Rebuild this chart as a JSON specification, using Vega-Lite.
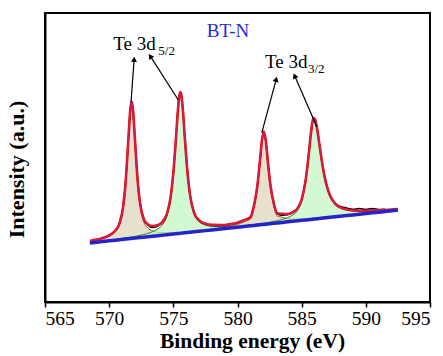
{
"$schema": "https://vega.github.io/schema/vega-lite/v6.json",
"width": 385, "height": 289,
"autosize": {"type": "none"},
"padding": {"left": 45, "top": 13, "right": 13, "bottom": 54},
"background": "white",
"config": {"view": {"stroke": "black", "strokeWidth": 2}, "font": "Liberation Serif"},
"datasets": {
"spec": [
{"x":568.5,"b":20.45,"e":21.14,"p1":20.94},
{"x":569,"b":20.69,"e":21.59,"p1":21.37},
{"x":569.5,"b":20.92,"e":22.17,"r":22.17,"p1":21.92},
{"x":570,"b":21.16,"e":23.09,"r":23.09,"p1":22.78,"p2":21.41},
{"x":570.5,"b":21.40,"e":24.81,"r":24.81,"p1":24.45,"p2":21.70},
{"x":570.8,"b":21.54,"e":27.14,"r":27.14,"p1":26.74,"p2":21.88},
{"x":571.1,"b":21.68,"e":33.36,"r":33.36,"p1":32.91,"p2":22.07},
{"x":571.3,"b":21.77,"e":42.52,"r":42.52,"p1":42.03,"p2":22.20},
{"x":571.5,"b":21.87,"e":56.60,"r":56.60,"p1":56.06,"p2":22.34},
{"x":571.65,"b":21.94,"e":66.70,"r":66.70,"p1":66.12,"p2":22.45},
{"x":571.75,"b":21.99,"e":69.29,"r":69.29,"p1":68.69,"p2":22.52},
{"x":571.85,"b":22.03,"e":66.84,"r":66.84,"p1":66.21,"p2":22.59},
{"x":572.0,"b":22.10,"e":56.97,"r":56.97,"p1":56.29,"p2":22.71},
{"x":572.2,"b":22.20,"e":43.21,"r":43.21,"p1":42.46,"p2":22.88},
{"x":572.4,"b":22.29,"e":34.37,"r":34.37,"p1":33.52,"p2":23.06},
{"x":572.7,"b":22.43,"e":28.65,"r":28.65,"p1":27.63,"p2":23.36},
{"x":573.0,"b":22.58,"e":26.88,"r":26.68,"p1":25.63,"p2":23.74},
{"x":573.4,"b":22.77,"e":26.28,"r":25.78,"p1":24.58,"p2":24.38},
{"x":573.8,"b":22.95,"e":26.62,"r":26.32,"p1":24.15,"p2":25.32},
{"x":574.2,"b":23.14,"e":27.96,"r":27.96,"p1":23.99,"p2":27.00},
{"x":574.5,"b":23.29,"e":30.46,"r":30.46,"p1":23.97,"p2":29.67},
{"x":574.8,"b":23.43,"e":36.62,"r":36.62,"p1":23.98,"p2":35.95},
{"x":575.0,"b":23.52,"e":44.64,"r":44.64,"p1":24.01,"p2":44.02},
{"x":575.2,"b":23.62,"e":56.34,"r":56.34,"p1":24.05,"p2":55.78},
{"x":575.35,"b":23.69,"e":65.98,"r":65.98,"p1":24.09,"p2":65.44},
{"x":575.45,"b":23.74,"e":70.82,"r":71.12,"p1":24.12,"p2":70.30},
{"x":575.55,"b":23.78,"e":72.69,"r":72.69,"p1":24.14,"p2":72.18},
{"x":575.65,"b":23.83,"e":70.89,"r":70.89,"p1":24.17,"p2":70.39},
{"x":575.75,"b":23.88,"e":66.11,"r":66.11,"p1":24.20,"p2":65.63},
{"x":575.9,"b":23.95,"e":56.58,"r":56.58,"p1":24.25,"p2":56.11},
{"x":576.1,"b":24.04,"e":44.98,"r":44.98,"p1":24.31,"p2":44.54},
{"x":576.3,"b":24.14,"e":37.09,"r":37.09,"p1":24.39,"p2":36.66},
{"x":576.6,"b":24.28,"e":31.09,"r":31.09,"p1":24.50,"p2":30.66},
{"x":577.0,"b":24.47,"e":28.27,"r":28.27,"p1":24.66,"p2":27.84},
{"x":577.5,"b":24.70,"e":27.09,"r":26.89,"p2":26.64,"p3":24.90},
{"x":578.0,"b":24.94,"e":26.67,"r":26.47,"p2":26.19,"p3":25.19},
{"x":578.7,"b":25.27,"e":26.63,"r":26.43,"p2":26.04,"p3":25.63},
{"x":579.4,"b":25.60,"e":26.93,"r":26.73,"p2":26.12,"p3":26.17},
{"x":580.0,"b":25.88,"e":27.46,"r":27.46,"p2":26.27,"p3":26.81},
{"x":580.5,"b":26.12,"e":28.31,"r":28.31,"p2":26.44,"p3":27.70,"p4":26.34},
{"x":581.0,"b":26.36,"e":29.31,"r":29.31,"p3":28.73,"p4":26.62},
{"x":581.3,"b":26.50,"e":33.69,"r":33.69,"p3":33.10,"p4":26.80},
{"x":581.55,"b":26.62,"e":40.31,"r":40.31,"p3":39.70,"p4":26.95},
{"x":581.75,"b":26.71,"e":48.91,"r":48.91,"p3":48.28,"p4":27.08},
{"x":581.9,"b":26.78,"e":55.75,"r":55.75,"p3":55.12,"p4":27.17},
{"x":582.05,"b":26.85,"e":59.00,"r":59.00,"p3":58.35,"p4":27.27},
{"x":582.2,"b":26.92,"e":55.95,"r":55.95,"p3":55.26,"p4":27.38},
{"x":582.35,"b":27.00,"e":49.29,"r":49.29,"p3":48.57,"p4":27.50},
{"x":582.55,"b":27.09,"e":40.93,"r":40.93,"p3":40.17,"p4":27.64},
{"x":582.8,"b":27.21,"e":34.65,"r":34.65,"p3":33.81,"p4":27.85},
{"x":583.1,"b":27.35,"e":30.68,"r":30.48,"p3":29.72,"p4":28.13},
{"x":583.5,"b":27.54,"e":30.53,"r":30.03,"p3":29.33,"p4":28.58},
{"x":583.9,"b":27.73,"e":30.47,"r":30.17,"p3":28.86,"p4":29.19},
{"x":584.3,"b":27.92,"e":31.04,"r":31.04,"p3":28.70,"p4":30.12},
{"x":584.7,"b":28.10,"e":32.55,"r":32.55,"p3":28.67,"p4":31.86},
{"x":585.0,"b":28.25,"e":35.44,"r":35.44,"p3":28.71,"p4":34.86},
{"x":585.3,"b":28.39,"e":41.85,"r":41.85,"p3":28.77,"p4":41.36},
{"x":585.5,"b":28.48,"e":48.96,"r":48.96,"p3":28.82,"p4":48.51},
{"x":585.7,"b":28.58,"e":57.51,"r":57.51,"p3":28.88,"p4":57.10},
{"x":585.85,"b":28.65,"e":62.51,"r":62.51,"p3":28.93,"p4":62.12},
{"x":585.95,"b":28.70,"e":63.66,"r":63.66,"p3":28.96,"p4":63.30},
{"x":586.05,"b":28.74,"e":63.04,"r":63.04,"p3":28.99,"p4":62.69},
{"x":586.2,"b":28.81,"e":60.01,"r":60.01,"p3":29.04,"p4":59.69},
{"x":586.4,"b":28.91,"e":53.99,"r":53.99,"p3":29.12,"p4":53.69},
{"x":586.65,"b":29.03,"e":46.61,"r":46.61,"p3":29.22,"p4":46.33},
{"x":586.9,"b":29.15,"e":41.08,"r":41.08,"p3":29.32,"p4":40.82},
{"x":587.2,"b":29.29,"e":36.90,"r":36.90,"p3":29.44,"p4":36.66},
{"x":587.6,"b":29.48,"e":34.06,"r":34.06,"p3":29.61,"p4":33.85},
{"x":588.0,"b":29.66,"e":32.76,"r":33.06,"p3":29.77,"p4":32.57},
{"x":588.5,"b":29.90,"e":32.02,"r":32.52,"p4":31.84},
{"x":589.0,"b":30.14,"e":31.68,"r":32.08,"p4":31.53},
{"x":589.5,"b":30.37,"e":31.54,"r":32.34,"p4":31.41},
{"x":590.0,"b":30.61,"e":31.53,"r":32.03,"p4":31.41},
{"x":590.5,"b":30.85,"e":31.61,"r":32.31,"p4":31.49},
{"x":591.0,"b":31.08,"e":31.70,"r":32.00,"p4":31.60},
{"x":591.5,"b":31.32,"e":31.85,"r":32.05,"p4":31.75},
{"x":592.0,"b":31.55,"e":32.01,"p4":31.92},
{"x":592.5,"b":31.79,"e":32.19,"p4":32.10}
],
"arrows": [
{"id":"a1","x":571.70,"y":68.9,"x2":571.94,"y2":83.7},
{"id":"a2","x":575.39,"y":69.9,"x2":573.24,"y2":84.8},
{"id":"a3","x":581.89,"y":58.5,"x2":583.0,"y2":76.8},
{"id":"a4","x":586.17,"y":60.7,"x2":584.48,"y2":78.0}
],
"labels": [
{"role":"main","x":570.32,"y":87.2,"text":"Te 3d"},
{"role":"sub","x":573.83,"y":85.6,"text":"5/2"},
{"role":"main","x":582.14,"y":80.9,"text":"Te 3d"},
{"role":"sub","x":585.49,"y":79.4,"text":"3/2"},
{"role":"name","x":579.26,"y":91.7,"text":"BT-N"}
]
},
"layer": [
{"data":{"name":"spec"},"transform":[{"filter":"isValid(datum.p1)"}],
 "mark":{"type":"area","color":"#dbd4b8","interpolate":"monotone","line":{"color":"#7a6a22","strokeWidth":1}},
 "encoding":{
  "x":{"field":"x","type":"quantitative","scale":{"domain":[565,595],"nice":false,"zero":false},
   "axis":{"values":[565,567.5,570,572.5,575,577.5,580,582.5,585,587.5,590,592.5,595],"format":"d",
    "labelExpr":"datum.value % 5 === 0 ? datum.label : ''",
    "tickSize":{"condition":{"test":"datum.value % 5 === 0","value":5},"value":3},
    "tickWidth":1.5,"tickColor":"black","domainColor":"black","domainWidth":2,
    "labelFontSize":19.5,"labelColor":"black","labelPadding":2,"labelFont":"Liberation Serif",
    "title":"Binding energy (eV)","titleFontSize":21.5,"titleFontWeight":"bold","titleColor":"black","titleFont":"Liberation Serif","titlePadding":3,"titleX":207,"grid":false}},
  "y":{"field":"p1","type":"quantitative","scale":{"domain":[0,100],"nice":false,"zero":false},
   "axis":{"title":"Intensity (a.u.)","ticks":false,"labels":false,"grid":false,"domainColor":"black","domainWidth":2,
    "titleFontSize":22,"titleFontWeight":"bold","titleColor":"black","titleFont":"Liberation Serif","titlePadding":17,"titleY":156}},
  "y2":{"field":"b"}}},
{"data":{"name":"spec"},"transform":[{"filter":"isValid(datum.p2)"}],
 "mark":{"type":"area","color":"#c0f6c0","interpolate":"monotone","line":{"color":"#2f7a2f","strokeWidth":1}},
 "encoding":{"x":{"field":"x","type":"quantitative","scale":{"domain":[565,595]}},
  "y":{"field":"p2","type":"quantitative","scale":{"domain":[0,100]}},"y2":{"field":"b"}}},
{"data":{"name":"spec"},"transform":[{"filter":"isValid(datum.p3)"}],
 "mark":{"type":"area","color":"#dbd4b8","interpolate":"monotone","line":{"color":"#7a6a22","strokeWidth":1}},
 "encoding":{"x":{"field":"x","type":"quantitative","scale":{"domain":[565,595]}},
  "y":{"field":"p3","type":"quantitative","scale":{"domain":[0,100]}},"y2":{"field":"b"}}},
{"data":{"name":"spec"},"transform":[{"filter":"isValid(datum.p4)"}],
 "mark":{"type":"area","color":"#c0f6c0","interpolate":"monotone","line":{"color":"#2f7a2f","strokeWidth":1}},
 "encoding":{"x":{"field":"x","type":"quantitative","scale":{"domain":[565,595]}},
  "y":{"field":"p4","type":"quantitative","scale":{"domain":[0,100]}},"y2":{"field":"b"}}},
{"data":{"name":"spec"},"transform":[{"filter":"isValid(datum.r)"}],
 "mark":{"type":"line","color":"black","strokeWidth":1.6,"interpolate":"monotone"},
 "encoding":{"x":{"field":"x","type":"quantitative","scale":{"domain":[565,595]}},
  "y":{"field":"r","type":"quantitative","scale":{"domain":[0,100]}}}},
{"data":{"name":"spec"},
 "mark":{"type":"line","color":"#e0101c","strokeWidth":2.6,"interpolate":"monotone"},
 "encoding":{"x":{"field":"x","type":"quantitative","scale":{"domain":[565,595]}},
  "y":{"field":"e","type":"quantitative","scale":{"domain":[0,100]}}}},
{"data":{"name":"spec"},
 "mark":{"type":"line","color":"#c0309a","strokeWidth":1,"opacity":0.55,"interpolate":"monotone"},
 "encoding":{"x":{"field":"x","type":"quantitative","scale":{"domain":[565,595]}},
  "y":{"field":"e","type":"quantitative","scale":{"domain":[0,100]}}}},
{"data":{"name":"spec"},
 "mark":{"type":"line","color":"#2424c8","strokeWidth":3.5},
 "encoding":{"x":{"field":"x","type":"quantitative","scale":{"domain":[565,595]}},
  "y":{"field":"b","type":"quantitative","scale":{"domain":[0,100]}}}},
{"data":{"name":"arrows"},
 "mark":{"type":"rule","color":"black","strokeWidth":1.2},
 "encoding":{"x":{"field":"x","type":"quantitative","scale":{"domain":[565,595]}},
  "y":{"field":"y","type":"quantitative","scale":{"domain":[0,100]}},
  "x2":{"field":"x2"},"y2":{"field":"y2"}}},
{"data":{"name":"arrows"},"transform":[{"filter":"datum.id === 'a1'"}],
 "mark":{"type":"point","shape":"triangle","filled":true,"color":"black","size":36,"angle":4,"opacity":1},
 "encoding":{"x":{"field":"x2","type":"quantitative","scale":{"domain":[565,595]}},
  "y":{"field":"y2","type":"quantitative","scale":{"domain":[0,100]}}}},
{"data":{"name":"arrows"},"transform":[{"filter":"datum.id === 'a2'"}],
 "mark":{"type":"point","shape":"triangle","filled":true,"color":"black","size":36,"angle":327,"opacity":1},
 "encoding":{"x":{"field":"x2","type":"quantitative","scale":{"domain":[565,595]}},
  "y":{"field":"y2","type":"quantitative","scale":{"domain":[0,100]}}}},
{"data":{"name":"arrows"},"transform":[{"filter":"datum.id === 'a3'"}],
 "mark":{"type":"point","shape":"triangle","filled":true,"color":"black","size":36,"angle":15,"opacity":1},
 "encoding":{"x":{"field":"x2","type":"quantitative","scale":{"domain":[565,595]}},
  "y":{"field":"y2","type":"quantitative","scale":{"domain":[0,100]}}}},
{"data":{"name":"arrows"},"transform":[{"filter":"datum.id === 'a4'"}],
 "mark":{"type":"point","shape":"triangle","filled":true,"color":"black","size":36,"angle":336,"opacity":1},
 "encoding":{"x":{"field":"x2","type":"quantitative","scale":{"domain":[565,595]}},
  "y":{"field":"y2","type":"quantitative","scale":{"domain":[0,100]}}}},
{"data":{"name":"labels"},"transform":[{"filter":"datum.role === 'main'"}],
 "mark":{"type":"text","align":"left","baseline":"alphabetic","fontSize":19,"font":"Liberation Serif","color":"black"},
 "encoding":{"x":{"field":"x","type":"quantitative","scale":{"domain":[565,595]}},
  "y":{"field":"y","type":"quantitative","scale":{"domain":[0,100]}},"text":{"field":"text"}}},
{"data":{"name":"labels"},"transform":[{"filter":"datum.role === 'sub'"}],
 "mark":{"type":"text","align":"left","baseline":"alphabetic","fontSize":13,"font":"Liberation Serif","color":"black"},
 "encoding":{"x":{"field":"x","type":"quantitative","scale":{"domain":[565,595]}},
  "y":{"field":"y","type":"quantitative","scale":{"domain":[0,100]}},"text":{"field":"text"}}},
{"data":{"name":"labels"},"transform":[{"filter":"datum.role === 'name'"}],
 "mark":{"type":"text","align":"center","baseline":"alphabetic","fontSize":19,"font":"Liberation Serif","color":"#2b2bd0"},
 "encoding":{"x":{"field":"x","type":"quantitative","scale":{"domain":[565,595]}},
  "y":{"field":"y","type":"quantitative","scale":{"domain":[0,100]}},"text":{"field":"text"}}}
]
}
